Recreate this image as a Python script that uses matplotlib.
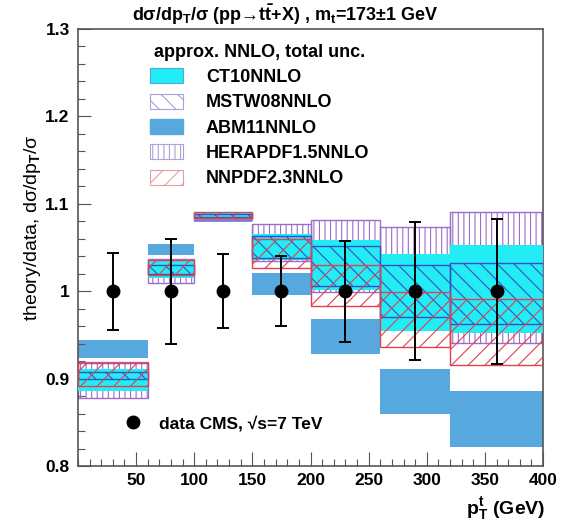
import numpy as np
import matplotlib
matplotlib.use('Agg')
import matplotlib.pyplot as plt
from matplotlib.patches import Patch
from matplotlib.lines import Line2D

plt.rcParams['font.family'] = ['Liberation Sans', 'DejaVu Sans']
plt.rcParams['font.weight'] = 'bold'
plt.rcParams['mathtext.fontset'] = 'custom'
plt.rcParams['mathtext.rm'] = 'Liberation Sans:bold'
plt.rcParams['mathtext.bf'] = 'Liberation Sans:bold'
plt.rcParams['mathtext.it'] = 'Liberation Sans:bold'
plt.rcParams['hatch.linewidth'] = 0.8

# Bins in pT (GeV)
bin_edges = [0, 60, 100, 150, 200, 260, 320, 400]

# CMS data, normalised to itself
data_x = [30, 80, 125, 175, 230, 290, 360]
data_y = [1.0, 1.0, 1.0, 1.0, 1.0, 1.0, 1.0]
data_err = [0.044, 0.060, 0.042, 0.040, 0.058, 0.079, 0.083]

# Theory / data bands (lower, upper) per bin
abm_lo = [0.924, 1.041, 1.079, 0.996, 0.928, 0.860, 0.822]
abm_hi = [0.944, 1.054, 1.085, 1.021, 0.968, 0.911, 0.886]
hera_lo = [0.878, 1.009, 1.082, 1.034, 0.999, 0.959, 0.941]
hera_hi = [0.919, 1.037, 1.090, 1.077, 1.081, 1.074, 1.091]
ct10_lo = [0.886, 1.015, 1.084, 1.036, 1.001, 0.954, 0.952]
ct10_hi = [0.911, 1.034, 1.089, 1.065, 1.059, 1.043, 1.053]
mstw_lo = [0.899, 1.020, 1.085, 1.038, 1.006, 0.971, 0.963]
mstw_hi = [0.907, 1.030, 1.088, 1.063, 1.052, 1.030, 1.032]
nnpdf_lo = [0.891, 1.018, 1.084, 1.026, 0.983, 0.936, 0.915]
nnpdf_hi = [0.918, 1.036, 1.0905, 1.060, 1.030, 0.999, 0.991]

c_abm = '#58a8e0'
c_ct10 = '#22ecf4'
c_mstw = '#3a4ec4'
c_hera = '#9a6ccc'
c_nnpdf = '#e2404c'

edges = np.array(bin_edges, dtype=float)
left = edges[:-1]
width = np.diff(edges)


def band(ax, lo, hi, **kw):
    lo = np.array(lo)
    hi = np.array(hi)
    ax.bar(left, hi - lo, bottom=lo, width=width, align='edge', **kw)


fig = plt.figure(figsize=(5.61, 5.31), dpi=100)
ax = fig.add_axes([0.139, 0.1224, 0.829, 0.823])

# Bands, back to front
band(ax, abm_lo, abm_hi, color=c_abm, linewidth=0, zorder=1)
band(ax, hera_lo, hera_hi, facecolor='none', edgecolor=c_hera, hatch='|||',
     linewidth=1.0, zorder=2)
band(ax, ct10_lo, ct10_hi, color=c_ct10, linewidth=0, zorder=3)
band(ax, mstw_lo, mstw_hi, facecolor='none', edgecolor=c_mstw, hatch='\\\\',
     linewidth=1.0, zorder=4)
band(ax, nnpdf_lo, nnpdf_hi, facecolor='none', edgecolor=c_nnpdf, hatch='//',
     linewidth=1.0, zorder=5)

# Data points
ax.errorbar(data_x, data_y, yerr=data_err, fmt='o', color='black', ms=9,
            elinewidth=1.4, capsize=4.5, capthick=1.4, zorder=10)

ax.set_xlim(0, 400)
ax.set_ylim(0.8, 1.3)
ax.set_xticks([50, 100, 150, 200, 250, 300, 350, 400])
ax.set_xticks(np.arange(0, 401, 10), minor=True)
ax.set_yticks([0.8, 0.9, 1.0, 1.1, 1.2, 1.3])
ax.set_yticklabels(['0.8', '0.9', '1', '1.1', '1.2', '1.3'])
ax.set_yticks(np.arange(0.8, 1.301, 0.02), minor=True)
ax.tick_params(which='both', direction='in', top=False, right=False,
               labelsize=12.5, width=0.8, color='#555555')
ax.tick_params(axis='y', which='major', length=9, pad=6)
ax.tick_params(axis='y', which='minor', length=5)
ax.tick_params(axis='x', which='major', length=10, pad=5)
ax.tick_params(axis='x', which='minor', length=5)
for s in ax.spines.values():
    s.set_linewidth(1.2)
    s.set_color('#555555')

ax.set_ylabel(r'theory/data, dσ/dp$_{\mathbf{T}}$/σ', fontsize=14)
ax.yaxis.set_label_coords(-0.075, 0.545)
ax.text(1.005, -0.097, r'p$_{\mathbf{T}}^{\mathbf{t}}$ (GeV)', transform=ax.transAxes,
        ha='right', va='center', fontsize=14)

fig.text(0.508, 0.972,
         r'dσ/dp$_{\mathbf{T}}$/σ (pp→t$\bar{\mathbf{t}}$+X) , m$_{\mathbf{t}}$=173±1 GeV',
         ha='center', va='center', fontsize=13)

# Legends
handles = [
    Patch(facecolor=c_ct10, edgecolor='#4aa8e0', linewidth=0.8, label='CT10NNLO'),
    Patch(facecolor='white', edgecolor='#a9a0d8', hatch='\\\\', linewidth=0.8,
          label='MSTW08NNLO'),
    Patch(facecolor=c_abm, edgecolor=c_abm, label='ABM11NNLO'),
    Patch(facecolor='white', edgecolor='#b0a0d8', hatch='|||', linewidth=0.8,
          label='HERAPDF1.5NNLO'),
    Patch(facecolor='white', edgecolor='#e0a0a0', hatch='//', linewidth=0.8,
          label='NNPDF2.3NNLO'),
]
leg = ax.legend(handles=handles, title='approx. NNLO, total unc.', loc='upper left',
                bbox_to_anchor=(0.155, 0.966), frameon=False, fontsize=13,
                title_fontproperties={'weight': 'bold', 'size': 13},
                handlelength=1.8, handleheight=0.9, handletextpad=1.3,
                labelspacing=0.42, borderpad=0, borderaxespad=0)
ax.add_artist(leg)

data_handle = Line2D([], [], marker='o', color='black', linestyle='none', ms=9,
                     label='data CMS, √s=7 TeV')
ax.legend(handles=[data_handle], loc='center left', bbox_to_anchor=(0.08, 0.098),
          frameon=False, fontsize=12.5, handletextpad=0.5, borderpad=0,
          borderaxespad=0)

fig.savefig('out.png', dpi=100)
